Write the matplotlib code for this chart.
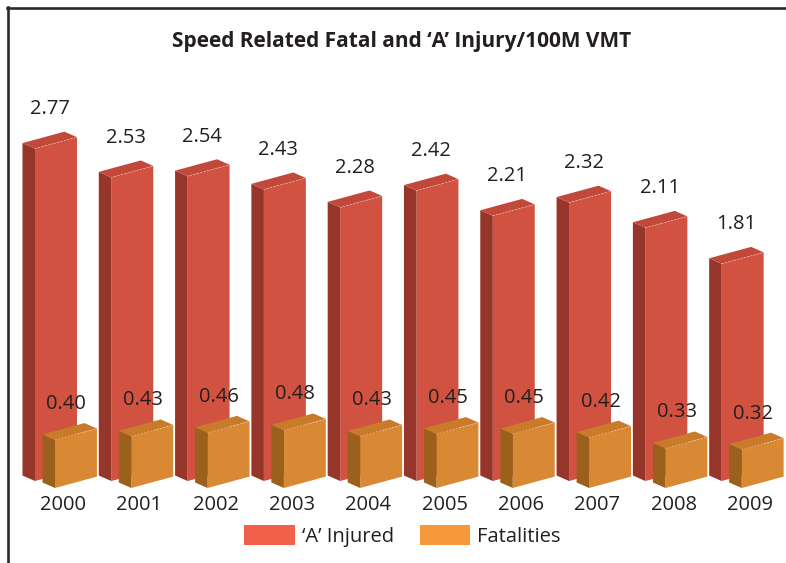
import matplotlib
matplotlib.use("Agg")
import matplotlib.pyplot as plt
from matplotlib.patches import Polygon, Patch
from matplotlib.lines import Line2D

plt.rcParams['font.family'] = ['Open Sans', 'DejaVu Sans']

# data
years = ["2000", "2001", "2002", "2003", "2004", "2005", "2006", "2007", "2008", "2009"]
injured = [2.77, 2.53, 2.54, 2.43, 2.28, 2.42, 2.21, 2.32, 2.11, 1.81]
fatalities = [0.40, 0.43, 0.46, 0.48, 0.43, 0.45, 0.45, 0.42, 0.33, 0.32]

# colours (front, side, top) and legend swatches
red_faces = ("#D25241", "#96352A", "#C2483A")
orange_faces = ("#D98834", "#9B611C", "#C97B29")
red_legend = "#F0604A"
orange_legend = "#F7993A"

# 3d box geometry in data units (x: category, y: value)
W = 0.55      # front face width
SLANT = 0.095 # rise of front face across its width
DX, DY = -0.164, 0.046  # depth vector (back-left, up)

FS = 14.5


def draw_box(ax, x0, y0, v, faces, z):
    front, side, top = faces
    y1 = y0 + v
    ax.add_patch(Polygon([(x0, y0), (x0 + W, y0 + SLANT), (x0 + W, y1 + SLANT), (x0, y1)],
                         closed=True, fc=front, ec="none", zorder=z))
    ax.add_patch(Polygon([(x0, y0), (x0, y1), (x0 + DX, y1 + DY), (x0 + DX, y0 + DY)],
                         closed=True, fc=side, ec="none", zorder=z))
    ax.add_patch(Polygon([(x0, y1), (x0 + W, y1 + SLANT), (x0 + W + DX, y1 + SLANT + DY), (x0 + DX, y1 + DY)],
                         closed=True, fc=top, ec="none", zorder=z))
    # light highlight along the front top edge
    ax.plot([x0, x0 + W], [y1, y1 + SLANT], color="white", lw=0.6, ls=(0, (2, 2)),
            alpha=0.45, zorder=z + 0.1)


fig = plt.figure(figsize=(7.86, 5.63), dpi=100)
ax = fig.add_axes([0, 0, 1, 1])
ax.set_xlim(-0.4587, 9.843)
ax.set_ylim(-0.683, 4.008)
ax.axis("off")

fat_dx, fat_dy = 0.262, -0.058

for i, (yr, inj, fat) in enumerate(zip(years, injured, fatalities)):
    draw_box(ax, i, 0, inj, red_faces, 2)
    ax.text(i + 0.19, inj + 0.33, f"{inj:.2f}", ha="center", va="center",
            fontsize=FS, color="#231f20", zorder=5)

for i, (yr, inj, fat) in enumerate(zip(years, injured, fatalities)):
    draw_box(ax, i + fat_dx, fat_dy, fat, orange_faces, 3)
    ax.text(i + fat_dx + 0.15, fat_dy + fat + 0.3, f"{fat:.2f}", ha="center", va="center",
            fontsize=FS, color="#231f20", zorder=5)
    ax.text(i + 0.37, -0.2, yr, ha="center", va="center", fontsize=FS, color="#231f20")

fig.text(0.511, 0.927, "Speed Related Fatal and \u2018A\u2019 Injury/100M VMT",
         ha="center", va="center", fontsize=15, fontweight="bold", color="#231f20")

handles = [Patch(fc=red_legend, ec="none", label="\u2018A\u2019 Injured"),
           Patch(fc=orange_legend, ec="none", label="Fatalities")]
fig.legend(handles=handles, loc="center", bbox_to_anchor=(0.512, 0.048), ncol=2,
           frameon=False, fontsize=FS, handlelength=2.49, handleheight=1.19,
           handletextpad=0.35, columnspacing=1.29, labelcolor="#231f20")

# frame (top and left edges visible)
fig.add_artist(Line2D([7 / 786, 1], [1 - 8 / 563, 1 - 8 / 563], transform=fig.transFigure,
                      color="#2b2b2b", lw=1.9))
fig.add_artist(Line2D([8 / 786, 8 / 786], [0, 1 - 7 / 563], transform=fig.transFigure,
                      color="#2b2b2b", lw=1.9))

fig.savefig("out.png", dpi=100)
